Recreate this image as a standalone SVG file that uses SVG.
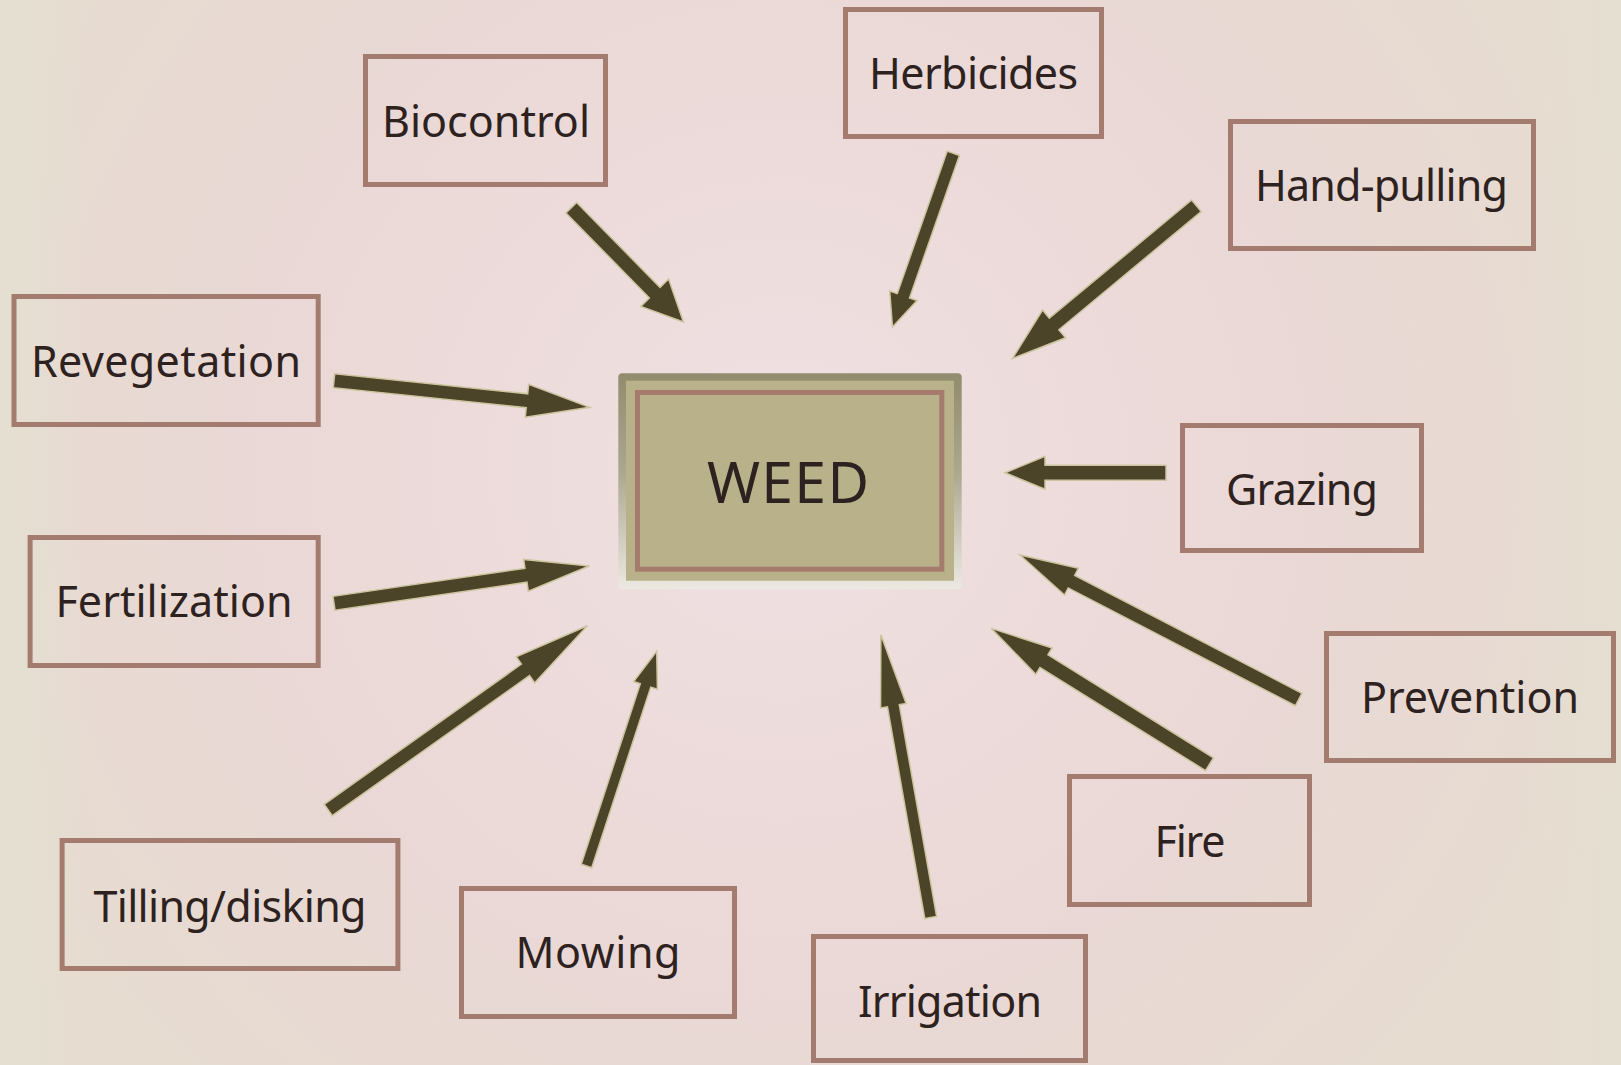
<svg xmlns="http://www.w3.org/2000/svg" width="1621" height="1065" viewBox="0 0 1621 1065">
<style>
.box{fill:none;stroke:#a37b6f;stroke-width:5}
.lbl{font-family:"Noto Sans","Liberation Sans",sans-serif;font-size:43px;fill:#2d2220;text-anchor:middle}
.arr{fill:#4b4429;stroke:#cdc49e;stroke-width:1.5;stroke-linejoin:miter}
</style>
<defs>
<radialGradient id="bg" cx="780" cy="470" r="900" gradientUnits="userSpaceOnUse">
<stop offset="0" stop-color="#f1e0e2"/>
<stop offset="0.6" stop-color="#e9d8d5"/>
<stop offset="1" stop-color="#e6dccf"/>
</radialGradient>
<linearGradient id="lt" x1="0" y1="0" x2="1" y2="0">
<stop offset="0" stop-color="#e3e2d2" stop-opacity="0.7"/>
<stop offset="0.05" stop-color="#e3e2d2" stop-opacity="0"/>
<stop offset="0.94" stop-color="#e3e2d2" stop-opacity="0"/>
<stop offset="1" stop-color="#e3e2d2" stop-opacity="0.45"/>
</linearGradient>
<linearGradient id="cg" x1="0" y1="0" x2="0" y2="1">
<stop offset="0" stop-color="#928c6e"/>
<stop offset="0.45" stop-color="#aba78d"/>
<stop offset="1" stop-color="#ebe9e2"/>
</linearGradient>
</defs>
<rect width="1621" height="1065" fill="url(#bg)"/>
<rect width="1621" height="1065" fill="url(#lt)"/>

<g id="connectors">
<path class="arr" transform="translate(571.3,207.8) rotate(45.5)" d="M0,-7.5 H119 V-19.5 L160,0 L119,19.5 V7.5 H0 Z"/>
<path class="arr" transform="translate(953.3,153.3) rotate(109.3)" d="M0,-6.5 H151 V-14.5 L184,0 L151,14.5 V6.5 H0 Z"/>
<path class="arr" transform="translate(1196.4,205.8) rotate(140.3)" d="M0,-7.5 H185 V-18 L239,0 L185,18 V7.5 H0 Z"/>
<path class="arr" transform="translate(334,380.7) rotate(5.95)" d="M0,-7 H194 V-16.5 L257,0 L194,16.5 V7 H0 Z"/>
<path class="arr" transform="translate(334,603.3) rotate(-8.3)" d="M0,-7 H194 V-16 L258,0 L194,16 V7 H0 Z"/>
<path class="arr" transform="translate(1166,472.8) rotate(180)" d="M0,-7.5 H121 V-16.5 L161,0 L121,16.5 V7.5 H0 Z"/>
<path class="arr" transform="translate(1298.7,699.5) rotate(207.4)" d="M0,-7 H256 V-15 L314,0 L256,15 V7 H0 Z"/>
<path class="arr" transform="translate(1209.5,764.2) rotate(211.9)" d="M0,-7.5 H195 V-15.5 L257,0 L195,15.5 V7.5 H0 Z"/>
<path class="arr" transform="translate(328.2,810) rotate(-35.4)" d="M0,-7 H242 V-16 L318,0 L242,16 V7 H0 Z"/>
<path class="arr" transform="translate(586.5,866) rotate(-71.9)" d="M0,-5.5 H190 V-12.5 L226,0 L190,12.5 V5.5 H0 Z"/>
<path class="arr" transform="translate(930.7,917.5) rotate(-100)" d="M0,-6 H215 V-13 L287,0 L215,13 V6 H0 Z"/>
</g>

<g id="weed">
<rect x="618.3" y="373.3" width="343.4" height="216" rx="4" fill="url(#cg)"/>
<rect x="626" y="380.7" width="328" height="200" fill="#b9b189"/>
<rect x="637.5" y="392.5" width="304.3" height="176.7" fill="none" stroke="#a57b6e" stroke-width="5"/>
<text x="788" y="502.7" class="lbl" style="font-size:57px" textLength="162">WEED</text>
</g>

<g id="biocontrol"><rect class="box" x="365.5" y="56.5" width="240" height="128"/><text class="lbl" x="486" y="136.7" textLength="208">Biocontrol</text></g>
<g id="herbicides"><rect class="box" x="845.5" y="9.5" width="256" height="127"/><text class="lbl" x="973.5" y="89" textLength="209">Herbicides</text></g>
<g id="hand-pulling"><rect class="box" x="1230.5" y="121.5" width="303" height="127"/><text class="lbl" x="1381.5" y="200.7" textLength="253">Hand-pulling</text></g>
<g id="revegetation"><rect class="box" x="14" y="296.5" width="304.2" height="128"/><text class="lbl" x="166" y="377.3" textLength="270">Revegetation</text></g>
<g id="fertilization"><rect class="box" x="30.1" y="537.5" width="288.1" height="128"/><text class="lbl" x="174" y="616.7" textLength="237">Fertilization</text></g>
<g id="grazing"><rect class="box" x="1182.5" y="425.5" width="239" height="125"/><text class="lbl" x="1302" y="505" textLength="152">Grazing</text></g>
<g id="prevention"><rect class="box" x="1326.5" y="633.5" width="287" height="127"/><text class="lbl" x="1470" y="713.3" textLength="218">Prevention</text></g>
<g id="fire"><rect class="box" x="1069.5" y="776.5" width="240" height="128"/><text class="lbl" x="1190" y="856.7" textLength="71">Fire</text></g>
<g id="tilling-disking"><rect class="box" x="62.1" y="840.5" width="335.8" height="128"/><text class="lbl" x="230" y="921.7" textLength="273">Tilling/disking</text></g>
<g id="mowing"><rect class="box" x="461.5" y="888.5" width="273" height="128"/><text class="lbl" x="598" y="968.3" textLength="165">Mowing</text></g>
<g id="irrigation"><rect class="box" x="813.5" y="936.5" width="272" height="124"/><text class="lbl" x="950" y="1016.7" textLength="184">Irrigation</text></g>
</svg>
